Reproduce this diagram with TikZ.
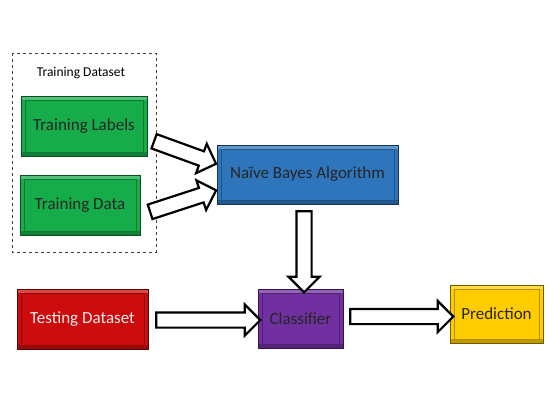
\documentclass[tikz,border=0pt]{standalone}
\usepackage{fontspec}
\setmainfont{Carlito}
\usepackage{tikz}
\usepackage{xcolor}
\usetikzlibrary{calc,shapes.arrows}

\definecolor{boxgreen}{RGB}{22,172,74}
\definecolor{boxblue}{RGB}{46,117,188}
\definecolor{boxred}{RGB}{204,12,12}
\definecolor{boxpurple}{RGB}{112,48,160}
\definecolor{boxyellow}{RGB}{255,204,0}

\tikzset{
  box/.style={draw=#1!45!black, fill=#1, line width=1pt,
    minimum height=60pt, inner sep=0pt,
    font=\fontsize{17}{20}\selectfont, text=black!85,
    path picture={
      \fill[#1!75!white] (path picture bounding box.north west) rectangle
        ([yshift=-4pt]path picture bounding box.north east);
      \fill[#1!75!black] ([yshift=4pt]path picture bounding box.south west) rectangle
        (path picture bounding box.south east);
      \draw[#1!70!black, line width=0.8pt]
        ([shift={(4pt,-4pt)}]path picture bounding box.north west) rectangle
        ([shift={(-4pt,4pt)}]path picture bounding box.south east);
    }},
  bigarrow/.style={single arrow, draw=black, fill=white, line width=2.2pt,
    inner sep=0pt, inner ysep=6.5pt, single arrow head extend=8pt,
    single arrow head indent=0pt, anchor=center}
}

% hollow block arrow from one point to another
\newcommand{\blockarrow}[2]{%
  \path let \p1=($(#2)-(#1)$), \n1={atan2(\y1,\x1)}, \n2={veclen(\x1,\y1)} in
    node[bigarrow, minimum height=\n2, rotate=\n1] at ($(#1)!0.5!(#2)$) {};}

\begin{document}
\begin{tikzpicture}[x=1pt,y=-1pt]
    \useasboundingbox (0,0) rectangle (560,400);

    % Training dataset frame
    \draw [dashed,line width=0.7pt,black!75] (12,53) rectangle (156,252);
    \node (tds) at (81,73) {\fontsize{13.5}{16}\selectfont Training Dataset};

    % Boxes
    \node (tlab) at (84,126) [box=boxgreen,minimum width=126pt] {Training Labels};
    \node (tdat) at (80,205) [box=boxgreen,minimum width=120pt] {Training Data};
    \node (nb) at (307.5,174.5) [box=boxblue,minimum width=181pt,minimum height=59pt] {Naïve Bayes Algorithm};
    \node (test) at (82.5,319) [box=boxred,minimum width=131pt,text=white!92!red] {Testing Dataset};
    \node (cls) at (300.5,318.5) [box=boxpurple,minimum width=85pt,minimum height=59pt] {Classifier};
    \node (pred) at (496.5,314) [box=boxyellow,minimum width=93pt,minimum height=58pt] {Prediction};

    % Arrows into the algorithm
    \coordinate (a1) at ($(tlab.east)+(3,14)$);
    \coordinate (b1) at ($(nb.west)+(-4,-12)$);
    \blockarrow{a1}{b1}
    \coordinate (a2) at ($(tdat.east)+(6,8)$);
    \coordinate (b2) at ($(nb.west)+(-4,17)$);
    \blockarrow{a2}{b2}

    % Algorithm to classifier
    \coordinate (a3) at ($(nb.south)+(-3.5,3)$);
    \coordinate (b3) at (a3 |- cls.north);
    \blockarrow{a3}{b3}

    % Testing data to classifier, classifier to prediction
    \coordinate (a4) at ($(test.east)+(4,1)$);
    \coordinate (b4) at ($(cls.west)+(-1,1.5)$);
    \blockarrow{a4}{b4}
    \coordinate (a5) at ($(cls.east)+(3,-2)$);
    \coordinate (b5) at ($(pred.west)+(0,2.5)$);
    \blockarrow{a5}{b5}
\end{tikzpicture}
\end{document}
